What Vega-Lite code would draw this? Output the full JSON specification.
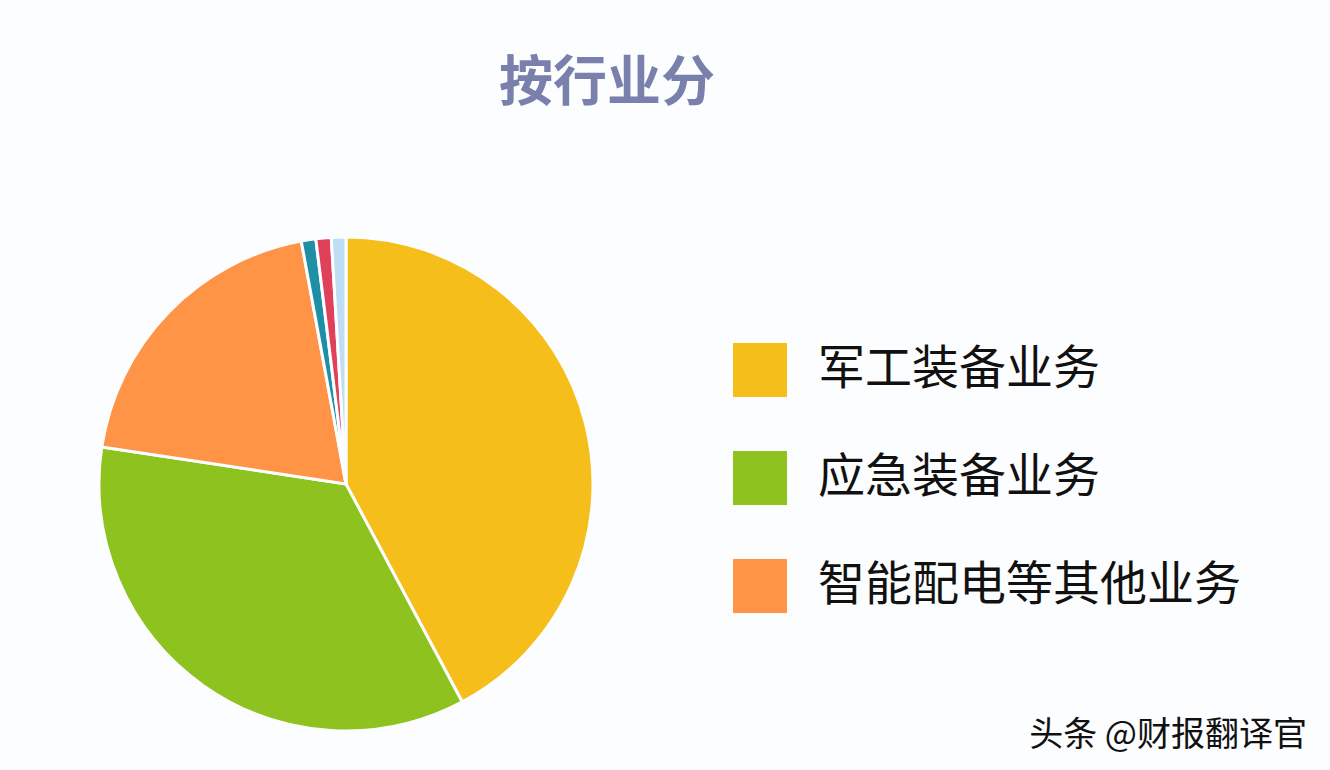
{
  "$schema": "https://vega.github.io/schema/vega-lite/v6.json",
  "background": "#FCFDFE",
  "padding": {"left": 93, "top": 58, "right": 91, "bottom": 18},
  "title": {
    "text": "头条 @财报翻译官",
    "orient": "bottom",
    "anchor": "end",
    "font": "Noto Sans CJK SC",
    "fontSize": 34,
    "fontWeight": "normal",
    "color": "#111111",
    "offset": -18,
    "dx": 66
  },
  "config": {"view": {"stroke": null}, "font": "Noto Sans CJK SC"},
  "hconcat": [
    {
      "width": 494,
      "height": 494,
      "title": {
        "text": "按行业分",
        "anchor": "middle",
        "dx": 261,
        "offset": 119,
        "font": "Noto Sans CJK SC",
        "fontSize": 54,
        "fontWeight": "bold",
        "color": "#7A80AC"
      },
      "data": {
        "values": [
          {"segment": "军工装备业务", "share": 42.2, "idx": 1},
          {"segment": "应急装备业务", "share": 35.2, "idx": 2},
          {"segment": "智能配电等其他业务", "share": 19.7, "idx": 3},
          {"segment": "其他1", "share": 0.95, "idx": 4},
          {"segment": "其他2", "share": 1.0, "idx": 5},
          {"segment": "其他3", "share": 0.95, "idx": 6}
        ]
      },
      "mark": {"type": "arc", "stroke": "#FCFDFE", "strokeWidth": 3},
      "encoding": {
        "theta": {"field": "share", "type": "quantitative", "stack": true},
        "order": {"field": "idx", "type": "quantitative"},
        "color": {
          "field": "segment",
          "type": "nominal",
          "scale": {
            "domain": ["军工装备业务", "应急装备业务", "智能配电等其他业务", "其他1", "其他2", "其他3"],
            "range": ["#F6BE1A", "#8DC21F", "#FF9447", "#1F8FA6", "#E0405A", "#BFDDF5"]
          },
          "legend": {
            "orient": "none",
            "legendX": 634,
            "legendY": 106,
            "title": null,
            "values": ["军工装备业务", "应急装备业务", "智能配电等其他业务"],
            "symbolType": "square",
            "symbolSize": 2916,
            "symbolStrokeWidth": 0,
            "symbolOpacity": 1,
            "labelFont": "Noto Sans CJK SC",
            "labelFontSize": 47,
            "labelColor": "#111111",
            "labelOffset": 31,
            "rowPadding": 54,
            "labelLimit": 600
          }
        }
      }
    }
  ]
}
